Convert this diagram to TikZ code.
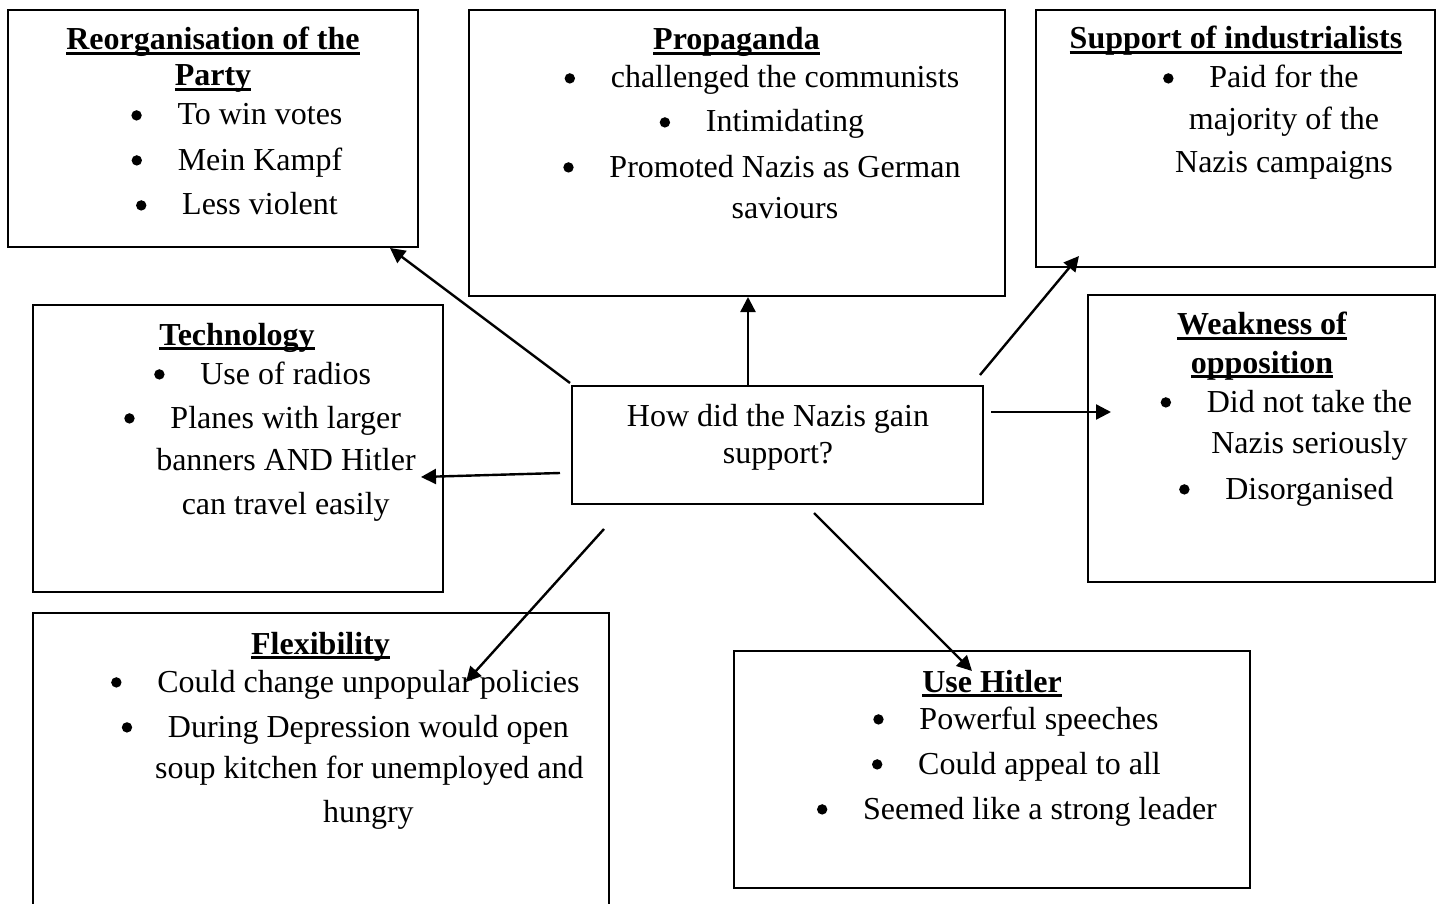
\documentclass[tikz,border=0pt]{standalone}
\usepackage{fontspec}
\setmainfont{Liberation Serif}
\usetikzlibrary{arrows.meta}
\newsavebox\ulbox
\newcommand\ulx[1]{\sbox\ulbox{#1}\rlap{\rule[-2.5pt]{\wd\ulbox}{1.5pt}}\usebox\ulbox}
\newcommand\bitem[4]{%
  \node[ln] (#1) at (#2,#3) {#4};
  \node[bul] (#1b) at ([xshift=-20.5pt, yshift=4.8pt]#1.base west) {};}
\tikzset{
  box/.style={draw, line width=0.9pt, inner sep=0pt, outer sep=0pt},
  ln/.style={anchor=base, inner sep=0pt, outer sep=0pt, font=\fontsize{16pt}{19pt}\selectfont},
  ttl/.style={anchor=base, inner sep=0pt, outer sep=0pt, font=\fontsize{16pt}{19pt}\selectfont\bfseries},
  bul/.style={circle, fill=black, inner sep=0pt, outer sep=0pt, minimum size=5.2pt},
  arr/.style={line width=1.2pt, -{Triangle[length=7.5pt,width=7.5pt]}},
}
\begin{document}
\begin{tikzpicture}[x=0.5pt, y=-0.5pt]
\useasboundingbox (0,0) rectangle (1437,904);
\fill[white] (0,0) rectangle (1437,904);

% boxes
\node[box, minimum width=205pt, minimum height=118.5pt] (reorg) at (213,128.5) {};
\node[box, minimum width=268pt, minimum height=143pt] (prop) at (737,153) {};
\node[box, minimum width=199.5pt, minimum height=128.5pt] (supp) at (1235.5,138.5) {};
\node[box, minimum width=173.5pt, minimum height=143.5pt] (weak) at (1261.5,438.5) {};
\node[box, minimum width=205pt, minimum height=143.5pt] (tech) at (238,448.5) {};
\node[box, minimum width=205.5pt, minimum height=59pt] (ctr) at (777.5,445) {};
\node[box, minimum width=288pt, minimum height=153.5pt] (flex) at (321,766.5) {};
\node[box, minimum width=258pt, minimum height=118.5pt] (hit) at (992,769.5) {};

% Reorganisation of the Party
\node[ttl] (reorgT1) at (213,50) {\ulx{Reorganisation of the}};
\node[ttl] (reorgT2) at (213,86) {\ulx{Party}};
\bitem{reorg1}{260}{125}{To win votes}
\bitem{reorg2}{260}{170}{Mein Kampf}
\bitem{reorg3}{260}{215}{Less violent}

% Propaganda
\node[ttl] (propT) at (736.5,50) {\ulx{Propaganda}};
\bitem{prop1}{785}{88}{challenged the communists}
\bitem{prop2}{785}{132}{Intimidating}
\bitem{prop3}{785}{177}{Promoted Nazis as German}
\node[ln] (prop4) at (785,219) {saviours};

% Support of industrialists
\node[ttl] (suppT) at (1236,49) {\ulx{Support of industrialists}};
\bitem{supp1}{1284}{88}{Paid for the}
\node[ln] (supp2) at (1284,130) {majority of the};
\node[ln] (supp3) at (1284,173) {Nazis campaigns};

% Weakness of opposition
\node[ttl] (weakT1) at (1262,335) {\ulx{Weakness of}};
\node[ttl] (weakT2) at (1262,373) {\ulx{opposition}};
\bitem{weak1}{1309.5}{412}{Did not take the}
\node[ln] (weak2) at (1309.5,453) {Nazis seriously};
\bitem{weak3}{1309.5}{499}{Disorganised}

% Technology
\node[ttl] (techT) at (237,345) {\ulx{Technology}};
\bitem{tech1}{285.7}{384}{Use of radios}
\bitem{tech2}{285.7}{428}{Planes with larger}
\node[ln] (tech3) at (286,470) {banners AND Hitler};
\node[ln] (tech4) at (285.7,514) {can travel easily};

% Centre
\node[ln] (ctr1) at (778,426) {How did the Nazis gain};
\node[ln] (ctr2) at (778,463) {support?};

% Flexibility
\node[ttl] (flexT) at (320.5,654) {\ulx{Flexibility}};
\bitem{flex1}{368.4}{692}{Could change unpopular policies}
\bitem{flex2}{368.4}{737}{During Depression would open}
\node[ln] (flex3) at (369.4,778) {soup kitchen for unemployed and};
\node[ln] (flex4) at (368.4,822) {hungry};

% Use Hitler
\node[ttl] (hitT) at (992,692) {\ulx{Use Hitler}};
\bitem{hit1}{1039}{729}{Powerful speeches}
\bitem{hit2}{1039.5}{774}{Could appeal to all}
\bitem{hit3}{1040}{819}{Seemed like a strong leader}

% arrow end points
\coordinate (a1s) at (570,383);  \coordinate (a1e) at (390,248);
\coordinate (a2s) at (748,385);  \coordinate (a2e) at (748,297);
\coordinate (a3s) at (980,375);  \coordinate (a3e) at (1079,256);
\coordinate (a4s) at (991,412);  \coordinate (a4e) at (1111,412);
\coordinate (a5s) at (560,473);  \coordinate (a5e) at (421,477);
\coordinate (a6s) at (604,529);  \coordinate (a6e) at (466,682);
\coordinate (a7s) at (814,513);  \coordinate (a7e) at (972,671);

\draw[arr] (a1s) -- (a1e);
\draw[arr] (a2s) -- (a2e);
\draw[arr] (a3s) -- (a3e);
\draw[arr] (a4s) -- (a4e);
\draw[arr] (a5s) -- (a5e);
\draw[arr] (a6s) -- (a6e);
\draw[arr] (a7s) -- (a7e);
\end{tikzpicture}
\end{document}
